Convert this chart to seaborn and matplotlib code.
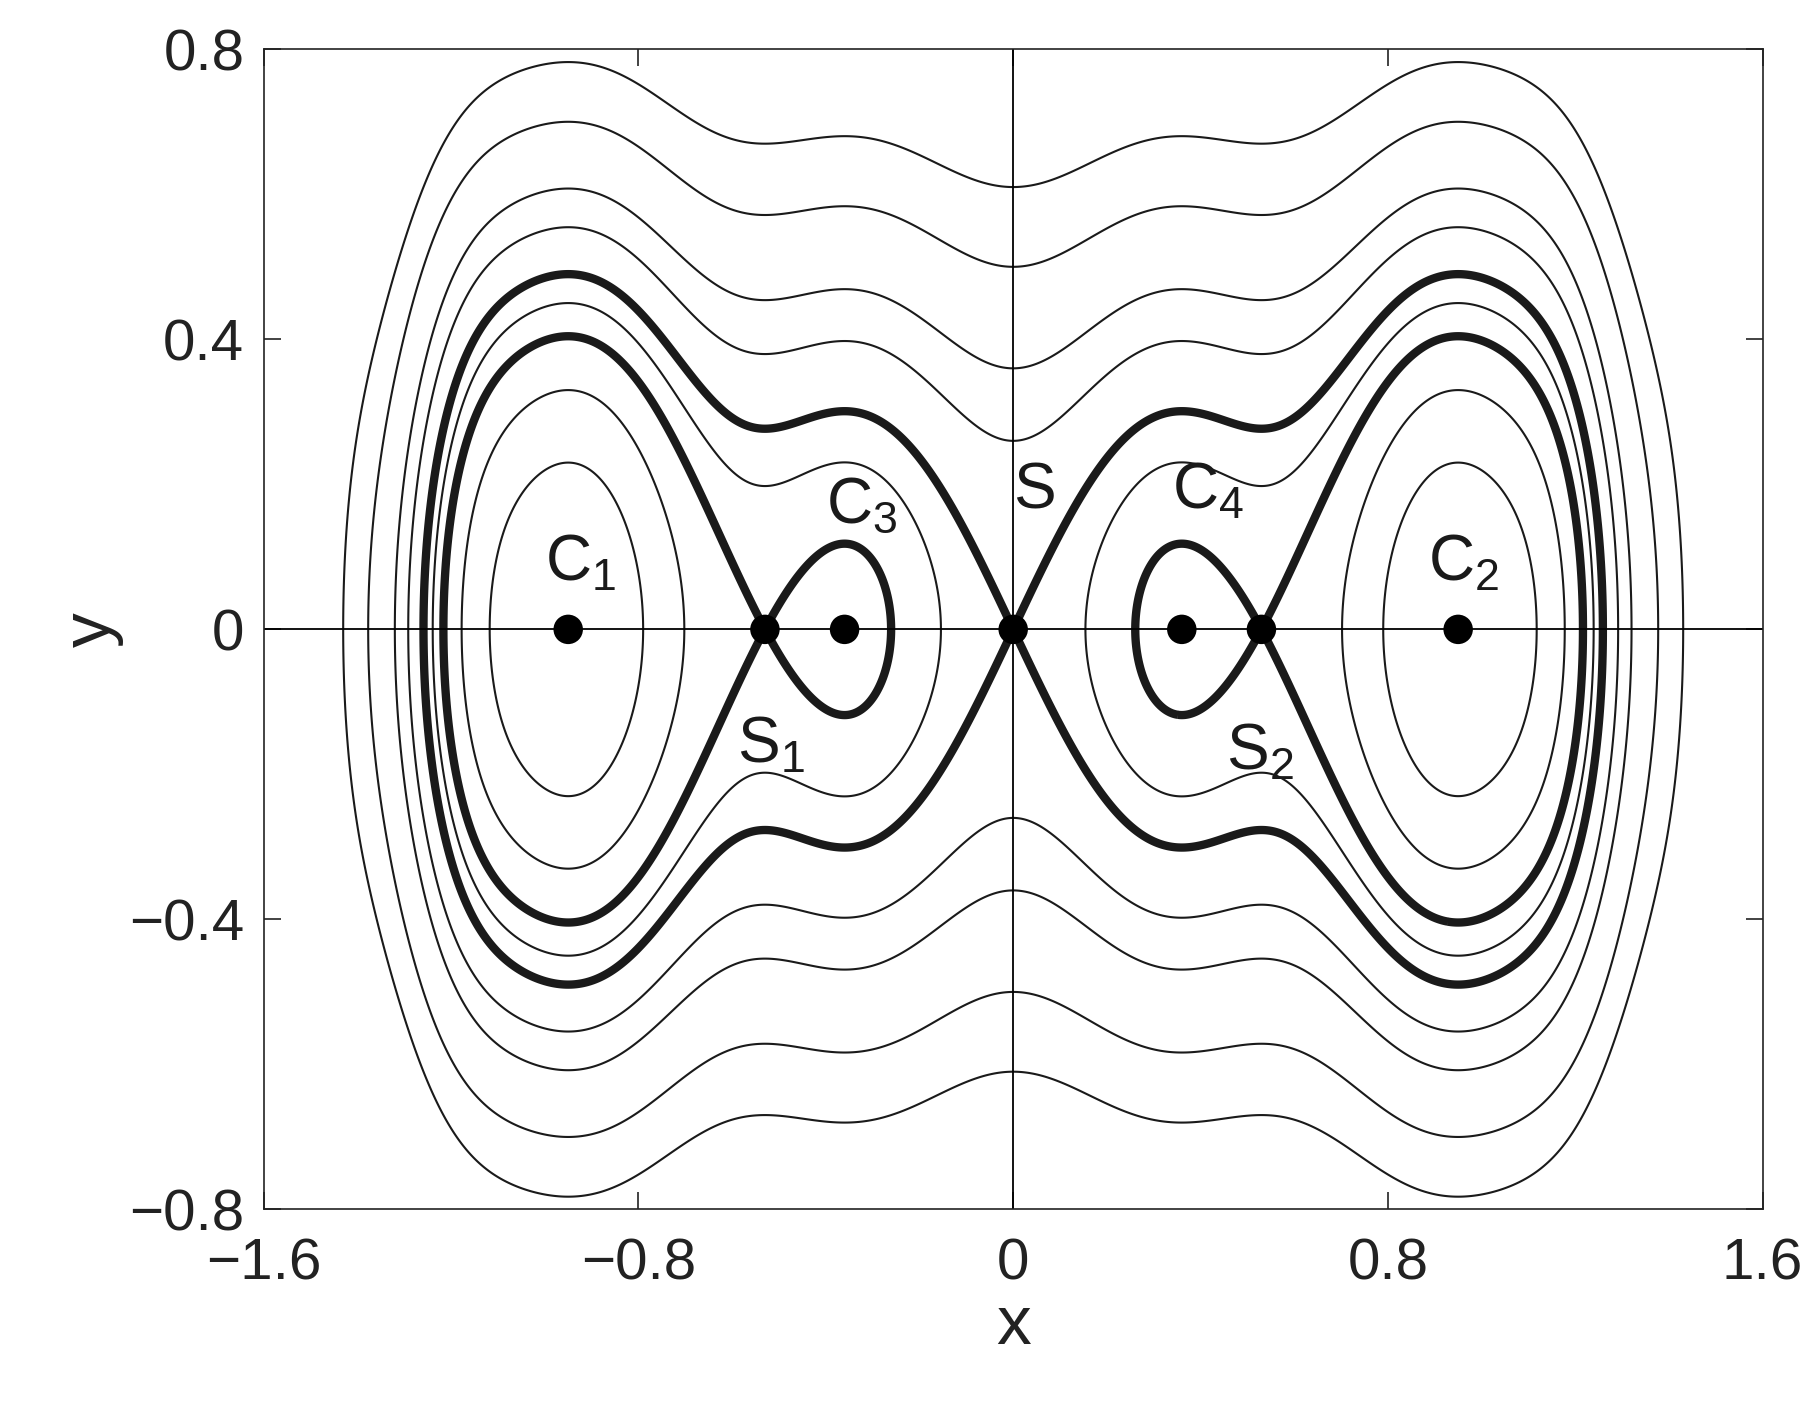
import numpy as np
import matplotlib
matplotlib.use("Agg")
import matplotlib.pyplot as plt
import seaborn as sns

sns.set_theme(style="ticks")
plt.rcParams['font.family'] = ['Liberation Sans', 'DejaVu Sans']
plt.rcParams['mathtext.fontset'] = 'custom'
plt.rcParams['mathtext.rm'] = 'Liberation Sans'
plt.rcParams['mathtext.it'] = 'Liberation Sans'
plt.rcParams['contour.negative_linestyle'] = 'solid'

# equilibria
centers_x = [-0.95, 0.95, -0.36, 0.36]
center_names = ["C$_1$", "C$_2$", "C$_3$", "C$_4$"]
saddles_x = [-0.53, 0.53, 0.0]
saddle_names = ["S$_1$", "S$_2$", "S"]
# potential values (V = H - y^2/2 on y=0)
eq_x = [0.36, 0.53, 0.95]
eq_v = [-0.045, -0.0385, -0.12]
pot_x = [0.69, 1.095, 1.22, 1.26, 1.29, 1.32, 1.37, 1.43, 1.55]
pot_v = [-0.0935, -0.0935, -0.04, 0.0, 0.034, 0.068, 0.115, 0.186, 0.40]
# contour heights
inner_y_at_C1 = [0.23, 0.33, 0.45]
outer_y_at_0 = [0.26, 0.36, 0.50, 0.61]

nmax = 10
rows, rhs, w = [], [], []
for xx, vv in zip(eq_x, eq_v):
    rows.append([xx**(2*n) for n in range(1, nmax+1)]); rhs.append(vv); w.append(20.0)
    rows.append([2*n*xx**(2*n-1) for n in range(1, nmax+1)]); rhs.append(0.0); w.append(20.0)
for xx, vv in zip(pot_x, pot_v):
    rows.append([xx**(2*n) for n in range(1, nmax+1)]); rhs.append(vv); w.append(1.0)
A = np.array(rows)*np.array(w)[:, None]
coef, *_ = np.linalg.lstsq(A, np.array(rhs)*np.array(w), rcond=None)
def V(x):
    return sum(cn*x**(2*(i+1)) for i, cn in enumerate(coef))

x = np.linspace(-1.6, 1.6, 1400)
y = np.linspace(-0.8, 0.8, 1000)
X, Y = np.meshgrid(x, y)
H = Y**2/2 + V(X)
H = np.where(np.abs(X) > 1.5, np.maximum(H, 1.0), H)

thin = sorted([V(0.95) + h**2/2 for h in inner_y_at_C1] + [h**2/2 for h in outer_y_at_0])
thick = sorted([V(0.53), V(0.0)])

fig = plt.figure(figsize=(18.19, 14.08), dpi=100)
ax = fig.add_axes([0.145, 0.141, 0.824, 0.824])
ax.contour(X, Y, H, levels=thin, colors='#1a1a1a', linewidths=1.5, linestyles='solid')
ax.contour(X, Y, H, levels=thick, colors='#1a1a1a', linewidths=6, linestyles='solid')
ax.axhline(0, color='black', lw=1.3)
ax.axvline(0, color='black', lw=1.3)
sns.scatterplot(x=centers_x + saddles_x, y=[0]*7, color='black', s=450, ax=ax, zorder=5, edgecolor='none')

fs = 46
pos = {"C$_1$": (-1.0, 0.09), "C$_2$": (0.885, 0.09), "C$_3$": (-0.40, 0.17),
       "C$_4$": (0.34, 0.19), "S$_1$": (-0.59, -0.16), "S$_2$": (0.455, -0.17), "S": (0.0, 0.19)}
for n in center_names + saddle_names:
    px, py = pos[n]
    ax.text(px, py, n, fontsize=fs, ha='left', va='center', color='#1a1a1a')

ax.set_xlim(-1.6, 1.6)
ax.set_ylim(-0.8, 0.8)
ax.set_xticks([-1.6, -0.8, 0, 0.8, 1.6])
ax.set_xticklabels(["\u22121.6", "\u22120.8", "0", "0.8", "1.6"])
ax.set_yticks([-0.8, -0.4, 0, 0.4, 0.8])
ax.set_yticklabels(["\u22120.8", "\u22120.4", "0", "0.4", "0.8"])
ax.tick_params(direction='in', length=12, width=1.2, labelsize=42, top=True, right=True, colors='#222222')
ax.tick_params(axis='x', pad=20)
ax.tick_params(axis='y', pad=14)
for s in ax.spines.values():
    s.set_linewidth(1.2)
    s.set_color('#222222')
ax.set_xlabel("x", fontsize=50, color='#222222', labelpad=2)
ax.set_ylabel("y", fontsize=50, color='#222222', labelpad=4)
fig.savefig("out.png", dpi=100)
